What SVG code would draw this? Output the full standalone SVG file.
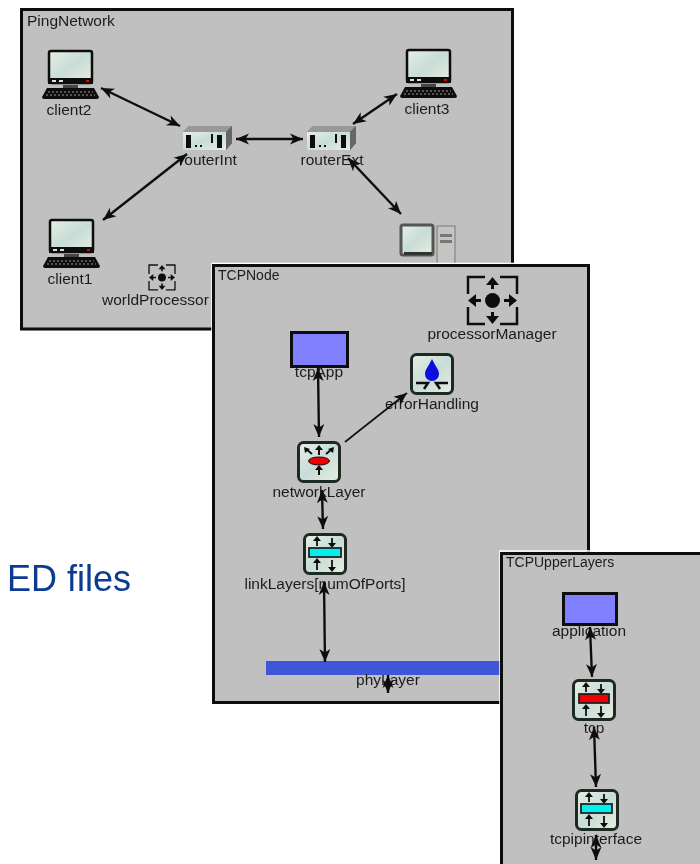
<svg xmlns="http://www.w3.org/2000/svg" width="700" height="864" viewBox="0 0 700 864" xmlns:xlink="http://www.w3.org/1999/xlink">
<style>
.panel{fill:#c0c0c0;stroke:#0c0c0c;stroke-width:3}
.halo{fill:none;stroke:#fff;stroke-width:1.5}
text{font-family:"Liberation Sans",Arial,sans-serif;font-size:15.5px;fill:#1c1c1c}
.m{text-anchor:middle}
.big{font-size:36px;fill:#0b3a8f}
.bar{fill:#8080ff;stroke:#0c0c0c;stroke-width:3}
.link{fill:none;stroke:#111;stroke-width:2.4;marker-start:url(#ah);marker-end:url(#ah)}
.one{fill:none;stroke:#111;stroke-width:1.8;marker-end:url(#ah)}
</style>
<defs>
<filter id="soft" filterUnits="userSpaceOnUse" x="0" y="0" width="700" height="864"><feGaussianBlur stdDeviation="0.4"/></filter>
<linearGradient id="scr" x1="0" y1="0" x2="1" y2="1"><stop offset="0" stop-color="#e6f0e4"/><stop offset=".5" stop-color="#c8dcd8"/><stop offset="1" stop-color="#e8eee0"/></linearGradient>
<marker id="ah" markerUnits="userSpaceOnUse" markerWidth="16" markerHeight="12" refX="14" refY="6" orient="auto-start-reverse"><path d="M14,6 L1,0.5 L4.5,6 L1,11.5 Z" fill="#111"/></marker>
<g id="laptop">
<rect x="1" y="1" width="43" height="32" rx="2" fill="url(#scr)" stroke="#0c0c0c" stroke-width="2.5"/>
<rect x="0" y="28" width="45" height="6" fill="#111"/>
<rect x="4" y="30" width="4" height="2" fill="#ddd"/><rect x="11" y="30" width="4" height="2" fill="#ddd"/><rect x="38" y="30" width="3" height="2" fill="#d01010"/>
<rect x="15" y="35" width="15" height="3" fill="#444"/>
<path d="M-1,38 L46,38 L51,47 Q51,49 49,49 L-4,49 Q-6,49 -6,47 Z" fill="#111"/>
<path d="M0,42 H45 M-2,45 H47" stroke="#999" stroke-width="1" stroke-dasharray="2 2"/>
</g>
<g id="router">
<path d="M0,6 L6,0 H49 V17 L43,24 H0 Z" fill="#777"/>
<path d="M0,6 L6,0 H49 L43,6 Z" fill="#999"/>
<rect x="0" y="6" width="43" height="18" fill="url(#scr)"/>
<path d="M43,6 L49,0 V17 L43,24 Z" fill="#666"/>
<path d="M4,10 H7 V21 H4 Z M35,10 H38 V21 H35 Z M29,8 V17 M12,20 H14 M17,20 H19" stroke="#111" stroke-width="2" fill="#111"/>
</g>
<g id="proc">
<path d="M0,17 V0 H17 M32,0 H49 V17 M49,30 V47 H32 M17,47 H0 V30" fill="none" stroke="#111" stroke-width="2.5"/>
<circle cx="24.500" cy="23.500" r="7.500" fill="#111"/>
<path d="M24.500,12 V4 M24.500,35 V43 M13,23.500 H5 M36,23.500 H44" stroke="#111" stroke-width="3"/>
<path d="M24.500,0 L18,8 H31 Z M24.500,47 L18,39 H31 Z M0,23.500 L8,17 V30 Z M49,23.500 L41,17 V30 Z" fill="#111"/>
</g>
<g id="frame"><rect x="1.500" y="1.500" width="41" height="39" rx="5" fill="url(#scr)" stroke="#1a2a24" stroke-width="3"/></g>
<g id="layerArrows">
<path d="M14,13 V5 M29,5 V13 M14,37 V27 M29,27 V37" stroke="#111" stroke-width="1.800"/>
<path d="M14,3 L10,8 H18 Z M29,15 L25,10 H33 Z M14,25 L10,30 H18 Z M29,39 L25,34 H33 Z" fill="#111"/>
</g>
</defs>
<rect width="700" height="864" fill="#fff"/>
<g filter="url(#soft)">
<text id="caption" class="big" x="131" y="591" text-anchor="end">ED files</text>

<g id="PingNetwork">
<rect class="panel" x="21.500" y="9.500" width="491" height="319.500"/>
<text x="27" y="26">PingNetwork</text>
</g>
<g id="client2"><use href="#laptop" x="48" y="50"/><text class="m" x="69" y="115">client2</text></g>
<g id="client3"><use href="#laptop" x="406" y="49"/><text class="m" x="427" y="114">client3</text></g>
<g id="client1"><use href="#laptop" x="49" y="219"/><text class="m" x="70" y="284">client1</text></g>
<g id="routerInt"><use href="#router" x="183" y="126"/><text class="m" x="208" y="165">routerInt</text></g>
<g id="routerExt"><use href="#router" x="307" y="126"/><text class="m" x="332" y="165">routerExt</text></g>
<g id="server">
<rect x="401" y="225" width="32" height="30" rx="2" fill="url(#scr)" stroke="#555" stroke-width="3"/>
<rect x="437" y="226" width="18" height="38" fill="#c4c4c0" stroke="#777"/>
<rect x="440" y="234" width="12" height="3" fill="#777"/><rect x="440" y="240" width="12" height="3" fill="#777"/>
<rect x="404" y="252" width="28" height="3" fill="#333"/>
</g>
<g id="worldProcessor"><use href="#proc" transform="translate(149 265) scale(.53)"/><text x="102" y="305">worldProcessor</text></g>

<g id="TCPNode">
<rect class="halo" x="212" y="263.500" width="378" height="441"/>
<rect class="panel" x="213.500" y="265.500" width="375" height="437"/>
<text x="218" y="280" style="font-size:14px">TCPNode</text>
</g>
<g id="processorManager"><use href="#proc" x="468" y="277"/><text class="m" x="492" y="339">processorManager</text></g>
<g id="tcpApp"><rect class="bar" x="291.500" y="332.500" width="56" height="34"/><text class="m" x="319" y="377">tcpApp</text></g>
<g id="errorHandling"><use href="#frame" x="410" y="353"/>
<path d="M432,359 C428,367 425,370 425,374 A7,7 0 0 0 439,374 C439,370 436,367 432,359 Z" fill="#0a10e0"/>
<path d="M416,383 H428 L424,389 M448,383 H436 L440,389" fill="none" stroke="#111" stroke-width="2.500"/>
<text class="m" x="432" y="409">errorHandling</text></g>
<g id="networkLayer"><use href="#frame" x="297" y="441"/>
<ellipse cx="319" cy="461" rx="10.500" ry="4" fill="#f00000" stroke="#111"/>
<path d="M319,455 V448 M312,454 L306,449 M326,454 L332,449 M319,475 V467" stroke="#111" stroke-width="2"/>
<path d="M319,445 L315,450 H323 Z M304,447 L305,453 L310,449 Z M334,447 L333,453 L328,449 Z M319,465 L315,470 H323 Z" fill="#111"/>
<text class="m" x="319" y="497">networkLayer</text></g>
<g id="linkLayers"><use href="#frame" x="303" y="533"/><use href="#layerArrows" x="303" y="533"/>
<rect x="309" y="548" width="32" height="9" fill="#00f0f0" stroke="#222" stroke-width="1.800"/>
<text class="m" x="325" y="589">linkLayers[numOfPorts]</text></g>
<g id="phyLayer"><rect x="266" y="661" width="236" height="14" fill="#4055d8"/><text class="m" x="388" y="685">phyLayer</text></g>

<g id="TCPUpperLayers">
<rect class="halo" x="500" y="551" width="210" height="330"/>
<rect class="panel" x="501.500" y="553.500" width="210" height="330"/>
<text x="506" y="567" style="font-size:14px">TCPUpperLayers</text>
</g>
<g id="application"><rect class="bar" x="563.500" y="593.500" width="53" height="31"/><text class="m" x="589" y="636">application</text></g>
<g id="tcp"><use href="#frame" x="572" y="679"/><use href="#layerArrows" x="572" y="679"/>
<rect x="579" y="694" width="30" height="9" fill="#f00000" stroke="#222" stroke-width="1.800"/>
<text class="m" x="594" y="733">tcp</text></g>
<g id="tcpipinterface"><use href="#frame" x="575" y="789"/><use href="#layerArrows" x="575" y="789"/>
<rect x="581" y="804" width="31" height="9" fill="#00f0f0" stroke="#222" stroke-width="1.800"/>
<text class="m" x="596" y="844">tcpipinterface</text></g>

<g id="connectors">
<path class="link" d="M101,88 L180,126"/>
<path class="link" d="M187,154 L103,220"/>
<path class="link" d="M236,139 L303,139"/>
<path class="link" d="M353,124 L397,94"/>
<path class="link" d="M348,158 L401,214"/>
<path class="link" d="M318,368 L319,437"/>
<path class="one" d="M345,442 L407,393"/>
<path class="link" d="M322,490 L323,529"/>
<path class="link" d="M324,582 L325,662"/>
<path class="link" d="M388,675 L388,693"/>
<path class="link" d="M590,627 L592,677"/>
<path class="link" d="M594,727 L596,787"/>
<path class="link" d="M596,835 L596,860"/>
</g>
</g>
</svg>
